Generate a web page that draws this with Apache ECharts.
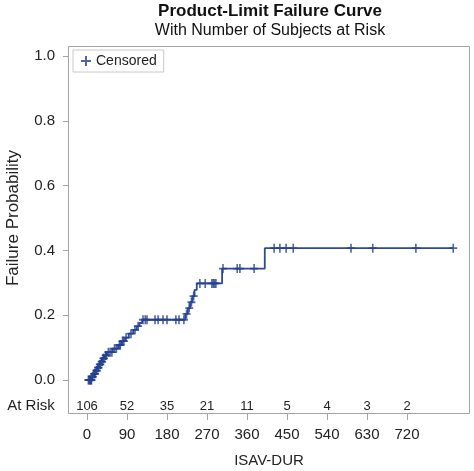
<!DOCTYPE html>
<html>
<head>
<meta charset="utf-8">
<script src="https://cdn.jsdelivr.net/npm/echarts@6/dist/echarts.min.js"></script>
<style>html,body{margin:0;padding:0;background:#fff}#c{width:474px;height:471px}</style>
</head>
<body>
<div id="c"></div>
<script>
// Event times (days) and Product-Limit failure probability after each event
const eventDays = [0, 11, 15, 19, 23, 27, 31, 35, 40, 45, 58, 70, 78, 86, 94, 104, 112, 118, 124, 221, 227, 232, 237, 242, 247, 304, 400];
const failureProb = [0, 0.010, 0.019, 0.029, 0.038, 0.048, 0.057, 0.067, 0.076, 0.086, 0.097, 0.108, 0.120, 0.131, 0.143, 0.155, 0.166, 0.176, 0.186, 0.204, 0.222, 0.240, 0.259, 0.278, 0.298, 0.344, 0.407];
// Censoring times (days)
const censorDays = [3, 5, 6, 8, 9, 10, 12, 13, 16, 17, 18, 21, 22, 25, 26, 29, 30, 33, 34, 37, 38, 42, 43, 48, 52, 56, 62, 66, 73, 75, 80, 83, 88, 99, 108, 115,
  126, 131, 135, 153, 160, 171, 180, 200, 207, 218, 224, 230, 235, 240,
  254, 266, 281, 284, 287, 290, 306, 338, 344, 376,
  421, 434, 448, 464, 594, 643, 740, 824];
// Number at risk row
const riskDays = [0, 90, 180, 270, 360, 450, 540, 630, 720];
const atRisk = [106, 52, 35, 21, 11, 5, 4, 3, 2];

const FONT = "'Liberation Sans', Arial, sans-serif";
const BLUE = '#2b4a99';
const FRAME = '#a4a4a4';
const PLUS = 'path://M4,0 h2 v10 h-2 z M0,4 h10 v2 h-10 z';

function failAt(t) {
  let p = 0;
  for (let i = 0; i < eventDays.length; i++) if (eventDays[i] <= t) p = failureProb[i];
  return p;
}
const lastDay = Math.max(...censorDays);
const curve = eventDays.map((d, i) => [d, failureProb[i]]);
curve.push([lastDay, failAt(lastDay)]);
const censored = censorDays.map(d => [d, failAt(d)]);

// Plot geometry: day 0 at x=87, 40px per 90 days; frame 68..470
const xMin = -19 * 90 / 40, xMax = 383 * 90 / 40;

const chart = echarts.init(document.getElementById('c'), null, {renderer: 'canvas'});
chart.setOption({
  animation: false,
  textStyle: {fontFamily: FONT},
  grid: [
    {left: 68, right: 4, top: 56, bottom: 91, containLabel: false, outerBoundsMode: 'none'},
    {left: 68, right: 4, top: 390, height: 8, containLabel: false, outerBoundsMode: 'none'}
  ],
  xAxis: [
    {
      type: 'value', gridIndex: 0, min: xMin, max: xMax, offset: 33, position: 'bottom',
      axisLine: {show: false, onZero: false},
      axisTick: {show: true, inside: false, length: 7, lineStyle: {color: FRAME}, customValues: riskDays},
      axisLabel: {customValues: riskDays, fontSize: 15, color: '#222', margin: 14, fontFamily: FONT},
      splitLine: {show: false},
      name: 'ISAV-DUR', nameLocation: 'middle', nameGap: 40,
      nameTextStyle: {fontSize: 15, color: '#222', fontFamily: FONT}
    },
    {
      type: 'value', gridIndex: 1, min: xMin, max: xMax, position: 'bottom',
      axisLine: {show: false, onZero: false}, axisTick: {show: false}, splitLine: {show: false},
      axisLabel: {
        customValues: riskDays, fontSize: 13, color: '#222', margin: 2, fontFamily: FONT,
        formatter: v => { const i = riskDays.indexOf(v); return i >= 0 ? String(atRisk[i]) : ''; }
      }
    }
  ],
  yAxis: [
    {
      type: 'value', gridIndex: 0, min: 0, max: 1, interval: 0.2, position: 'left',
      axisLine: {show: false, onZero: false},
      axisTick: {show: true, inside: false, length: 5, lineStyle: {color: FRAME}},
      axisLabel: {fontSize: 15, color: '#222', margin: 13, formatter: v => v.toFixed(1), fontFamily: FONT},
      splitLine: {show: false},
      name: 'Failure Probability', nameLocation: 'middle', nameGap: 46,
      nameTextStyle: {fontSize: 17, color: '#222', fontFamily: FONT}
    },
    {type: 'value', gridIndex: 1, show: false, min: 0, max: 1, axisLine: {onZero: false}}
  ],
  legend: {
    data: [{name: 'Censored', icon: PLUS}],
    left: 73, top: 50, padding: [4, 7, 4, 8],
    borderColor: '#c8c8c8', borderWidth: 1, backgroundColor: '#fff',
    itemWidth: 10, itemHeight: 10, itemGap: 5,
    textStyle: {fontSize: 14, color: '#222', fontFamily: FONT}
  },
  graphic: [
    {type: 'rect', shape: {x: 68.5, y: 46.5, width: 401, height: 367}, style: {fill: 'none', stroke: FRAME, lineWidth: 1}, z: 0, silent: true},
    {type: 'text', x: 270, y: 11, style: {text: 'Product-Limit Failure Curve', font: "bold 17px 'Liberation Sans', Arial, sans-serif", fill: '#111', textAlign: 'center', textVerticalAlign: 'middle'}},
    {type: 'text', x: 270, y: 31, style: {text: 'With Number of Subjects at Risk', font: "16px 'Liberation Sans', Arial, sans-serif", fill: '#111', textAlign: 'center', textVerticalAlign: 'middle'}},
    {type: 'text', x: 31, y: 406, style: {text: 'At Risk', font: "15px 'Liberation Sans', Arial, sans-serif", fill: '#222', textAlign: 'center', textVerticalAlign: 'middle'}}
  ],
  series: [
    {
      name: 'Failure', type: 'line', step: 'end', xAxisIndex: 0, yAxisIndex: 0,
      data: curve, showSymbol: false, symbol: 'none',
      lineStyle: {color: BLUE, width: 1.8}, z: 3
    },
    {
      name: 'Censored', type: 'scatter', xAxisIndex: 0, yAxisIndex: 0,
      data: censored, symbol: PLUS, symbolSize: [8, 9],
      itemStyle: {color: '#23408f'}, z: 4
    }
  ]
});
</script>
</body>
</html>
